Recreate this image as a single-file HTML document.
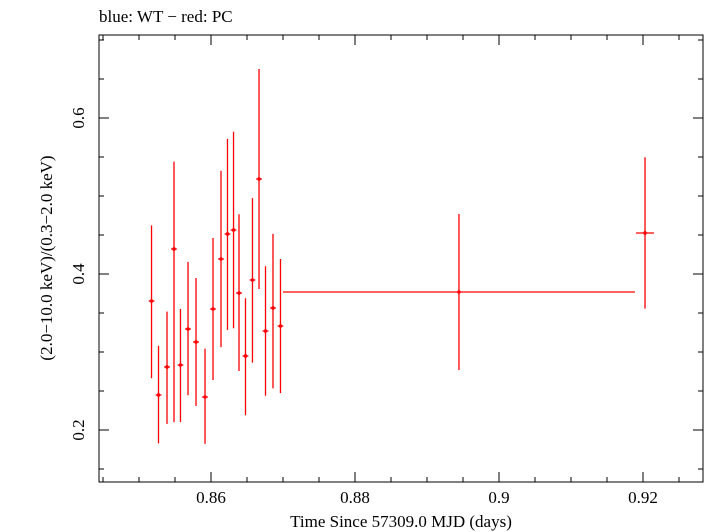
<!DOCTYPE html>
<html><head><meta charset="utf-8"><style>
body{margin:0;background:#fff}
svg{display:block;font-family:"Liberation Serif",serif}
</style></head><body>
<svg id="chart" width="705" height="532">
<text x="99" y="22" font-size="17">blue: WT − red: PC</text>
<rect x="99" y="35" width="604" height="447" fill="none" stroke="#000" stroke-width="1"/>
<g id="ticks"></g>
<g id="marks"></g>
<text x="401" y="527" font-size="17" text-anchor="middle">Time Since 57309.0 MJD (days)</text>
<text transform="translate(52,258) rotate(-90)" font-size="17" text-anchor="middle">(2.0−10.0 keV)/(0.3−2.0 keV)</text>
</svg>
<script>
const xs=[0.85174,0.85271,0.85389,0.85486,0.85576,0.85681,0.85792,0.85917,0.86028,0.86139,0.86229,0.86313,0.86389,0.86479,0.86576,0.86667,0.86757,0.86861,0.86965,0.89444,0.92028];
const xerr=[0.0004,0.0004,0.0004,0.0004,0.0004,0.0004,0.0004,0.0004,0.0004,0.0004,0.0004,0.0004,0.0004,0.0004,0.0004,0.0004,0.0004,0.0004,0.0004,0.02444,0.00125];
const ys=[0.3654,0.2449,0.2808,0.4321,0.2833,0.3295,0.3128,0.2423,0.3551,0.4192,0.4513,0.4564,0.3756,0.2949,0.3923,0.5218,0.3269,0.3564,0.3333,0.3769,0.4526];
const yUp=[0.097,0.063,0.071,0.112,0.072,0.086,0.082,0.062,0.091,0.113,0.122,0.126,0.101,0.074,0.105,0.141,0.083,0.095,0.086,0.100,0.097];
const yDn=[0.099,0.062,0.073,0.222,0.073,0.085,0.082,0.060,0.091,0.113,0.123,0.126,0.100,0.076,0.106,0.141,0.083,0.103,0.086,0.100,0.097];
const xTicks=[0.86,0.88,0.9,0.92];
const xTickLabels=["0.86","0.88","0.9","0.92"];
const yTicks=[0.2,0.4,0.6];
const yTickLabels=["0.2","0.4","0.6"];
const X=v=>211+(v-0.86)*7200;
const Y=v=>274-(v-0.4)*780;
const NS="http://www.w3.org/2000/svg";
function mk(tag,attrs,parent){const e=document.createElementNS(NS,tag);for(const k in attrs)e.setAttribute(k,attrs[k]);parent.appendChild(e);return e;}
const tg=document.getElementById('ticks');
for(let v=0.845;v<=0.9281;v+=0.005){const px=X(v);if(px<99||px>703)continue;
 const major=xTicks.some(t=>Math.abs(t-v)<1e-6);const L=major?10:5;
 const a=mk('line',{x1:px,x2:px,y1:482,y2:482-L,stroke:'#000'},tg);
 
 
 const b=mk('line',{x1:px,x2:px,y1:35,y2:35+L,stroke:'#000'},tg);
 
 }
for(let v=0.15;v<=0.72;v+=0.05){const py=Y(v);if(py<35||py>482)continue;
 const major=yTicks.some(t=>Math.abs(t-v)<1e-6);const L=major?10:5;
 const a=mk('line',{x1:99,x2:99+L,y1:py,y2:py,stroke:'#000'},tg);
 
 
 const b=mk('line',{x1:703,x2:703-L,y1:py,y2:py,stroke:'#000'},tg);
 
 }
xTicks.forEach((v,i)=>{const t=mk('text',{x:X(v),y:503,'font-size':17,'text-anchor':'middle'},tg);t.textContent=xTickLabels[i];
 
 });
yTicks.forEach((v,i)=>{const t=mk('text',{transform:`translate(84,${Y(v)}) rotate(-90)`,'font-size':17,'text-anchor':'middle'},tg);t.textContent=yTickLabels[i];
 
 });
const mg=document.getElementById('marks');
xs.forEach((x,i)=>{const g=mk('g',{stroke:'#f00','stroke-width':1.3},mg);
 
 
 mk('line',{x1:X(x-xerr[i]),x2:X(x+xerr[i]),y1:Y(ys[i]),y2:Y(ys[i])},g);
 mk('line',{x1:X(x),x2:X(x),y1:Y(ys[i]+yUp[i]),y2:Y(ys[i]-yDn[i])},g);
 mk('circle',{cx:X(x),cy:Y(ys[i]),r:1.8,fill:'#f00',stroke:'none'},g);});
</script>
</body></html>
